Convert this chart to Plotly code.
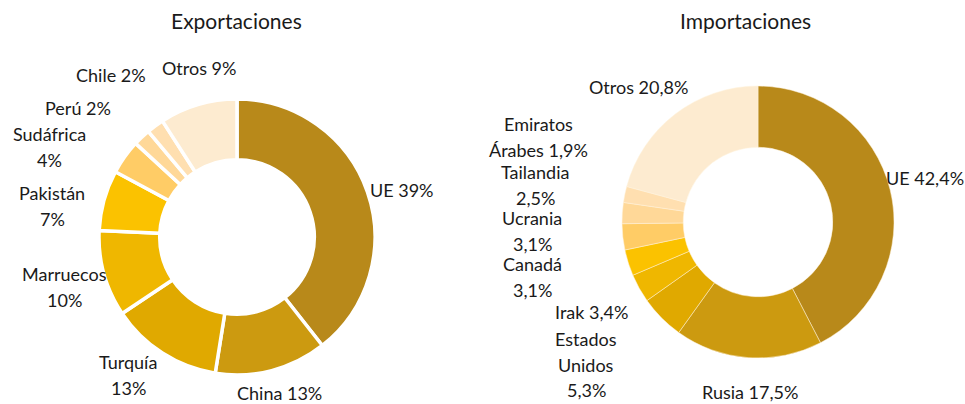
import plotly.graph_objects as go

# ---- Data ----
exp_labels = ["UE", "China", "Turquía", "Marruecos", "Pakistán", "Sudáfrica", "Perú", "Chile", "Otros"]
exp_values = [39, 13, 13, 10, 7, 4, 2, 2, 9]
exp_text = ["UE 39%", "China 13%", "Turquía\n13%", "Marruecos\n10%", "Pakistán\n7%",
            "Sudáfrica\n4%", "Perú 2%", "Chile 2%", "Otros 9%"]

imp_labels = ["UE", "Rusia", "Estados Unidos", "Irak", "Canadá", "Ucrania", "Tailandia",
              "Emiratos Árabes", "Otros"]
imp_values = [42.4, 17.5, 5.3, 3.4, 3.1, 3.1, 2.5, 1.9, 20.8]
imp_text = ["UE 42,4%", "Rusia 17,5%", "Estados\nUnidos\n5,3%", "Irak 3,4%", "Canadá\n3,1%",
            "Ucrania\n3,1%", "Tailandia\n2,5%", "Emiratos\nÁrabes 1,9%", "Otros 20,8%"]

colors = ["#B8891A", "#CC9A10", "#E0A900", "#EFB700", "#FBC200",
          "#FFCC66", "#FFD898", "#FFDFB0", "#FDEBD0"]

# ---- Layout helpers (pixel positions of label centers, first line) ----
W, H = 965, 404
exp_label_pos = [(402, 190), (279, 393), (128, 362), (64, 274), (52, 193),
                 (49, 134), (78, 108), (111, 75), (199, 68)]
imp_label_pos = [(925, 178), (750, 392), (586, 339), (591, 312), (532, 264),
                 (532, 218), (535, 172), (538, 124), (638, 87)]
LINE = 25.5
FONT = "Lato, 'Open Sans', sans-serif"


def dom(cx, cy, r):
    return dict(x=[(cx - r) / W, (cx + r) / W], y=[1 - (cy + r) / H, 1 - (cy - r) / H])


fig = go.Figure()
fig.add_trace(go.Pie(
    labels=exp_labels, values=exp_values, sort=False, direction="clockwise", rotation=0,
    hole=0.56, textinfo="none", hoverinfo="label+percent",
    marker=dict(colors=colors, line=dict(color="white", width=3.5)),
    domain=dom(237, 237, 138), showlegend=False))
fig.add_trace(go.Pie(
    labels=imp_labels, values=imp_values, sort=False, direction="clockwise", rotation=0,
    hole=0.55, textinfo="none", hoverinfo="label+percent",
    marker=dict(colors=colors, line=dict(color="#FFF3DC", width=0.5)),
    domain=dom(758, 222, 136), showlegend=False))

annos = []
for texts, poss in ((exp_text, exp_label_pos), (imp_text, imp_label_pos)):
    for t, (x, y) in zip(texts, poss):
        for i, line in enumerate(t.split("\n")):
            annos.append(dict(x=x / W, y=1 - (y + i * LINE) / H, xref="paper", yref="paper",
                              text=line, showarrow=False, xanchor="center", yanchor="middle",
                              font=dict(family=FONT, size=18, color="#1a1a1a")))
annos.append(dict(x=236 / W, y=1 - 20 / H, xref="paper", yref="paper", text="Exportaciones",
                  showarrow=False, xanchor="center", yanchor="middle",
                  font=dict(family=FONT, size=21, color="#1a1a1a")))
annos.append(dict(x=745 / W, y=1 - 20 / H, xref="paper", yref="paper", text="Importaciones",
                  showarrow=False, xanchor="center", yanchor="middle",
                  font=dict(family=FONT, size=21, color="#1a1a1a")))

fig.update_layout(width=W, height=H, margin=dict(l=0, r=0, t=0, b=0),
                  paper_bgcolor="white", plot_bgcolor="white", annotations=annos)
fig.write_html("out.html", config={"displayModeBar": False},
               post_script="document.body.style.margin='0';document.body.style.padding='0';")
